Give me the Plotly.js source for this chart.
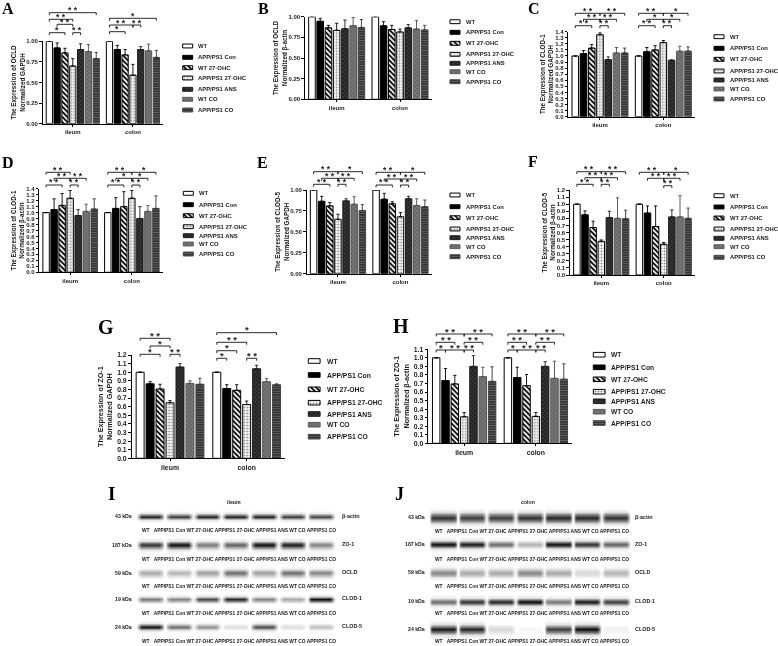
<!DOCTYPE html>
<html><head><meta charset="utf-8">
<script src="https://cdn.plot.ly/plotly-3.0.1.min.js"></script>
<style>html,body{margin:0;padding:0;background:#fff}#c{width:778px;height:646px;filter:blur(.35px)}</style>
</head><body><div id="c"></div>
<script>
const W = 778, H = 646;
const FONT = '"Liberation Sans", Arial, sans-serif';
const SERIF = '"Liberation Serif", "Times New Roman", serif';

const seriesNames = ['WT','APP/PS1 Con','WT 27-OHC','APP/PS1 27-OHC','APP/PS1 ANS','WT CO','APP/PS1 CO'];
const tissues = ['ileum','colon'];

const panelLetters = ['A','B','C','D','E','F','G','H'];
const proteins = ['OCLD','OCLD','CLOD-1','CLOD-1','CLOD-5','CLOD-5','ZO-1','ZO-1'];
const normalizers = ['GAPDH','β-actin','GAPDH','β-actin','GAPDH','β-actin','GAPDH','β-actin'];

const valuesA = [[1,.92,.86,.70,.90,.875,.79],[1,.90,.835,.59,.90,.885,.805]];
const errorsA = [[0,.06,.055,.09,.07,.085,.075],[0,.05,.065,.13,.035,.08,.085]];
const valuesB = [[1,.945,.865,.835,.855,.89,.87],[1,.89,.845,.815,.865,.85,.84]];
const errorsB = [[0,.035,.03,.085,.105,.10,.095],[0,.05,.05,.035,.04,.105,.055]];
const valuesC = [[1,1.04,1.13,1.35,.94,1.05,1.05],[1,1.07,1.10,1.22,.93,1.08,1.08]];
const errorsC = [[0,.05,.06,.03,.045,.09,.08],[0,.07,.07,.035,.005,.08,.07]];
const valuesD = [[1,1.05,1.12,1.24,.95,1.02,1.06],[1,1.07,1.10,1.24,.90,1.02,1.07]];
const errorsD = [[0,.18,.20,.13,.10,.12,.17],[0,.18,.25,.13,.20,.10,.21]];
const valuesE = [[1,.865,.81,.65,.87,.83,.755],[1,.89,.835,.68,.895,.815,.80]];
const errorsE = [[0,.06,.04,.06,.025,.09,.07],[0,.07,.025,.05,.03,.08,.08]];
const valuesF = [[1,.85,.67,.475,.81,.80,.795],[1,.875,.685,.435,.82,.82,.80]];
const errorsF = [[0,.055,.09,.02,.09,.29,.12],[0,.10,.29,.025,.10,.30,.145]];
const valuesG = [[1,.865,.805,.645,1.06,.87,.86],[1,.81,.79,.625,1.04,.89,.855]];
const errorsG = [[0,.025,.055,.025,.04,.03,.07],[0,.045,.065,.04,.04,.035,.01]];
const valuesH = [[1,.735,.695,.31,.90,.78,.725],[1,.77,.675,.315,.90,.76,.75]];
const errorsH = [[0,.14,.10,.05,.125,.11,.17],[0,.12,.13,.045,.055,.20,.18]];
const allValues = [valuesA,valuesB,valuesC,valuesD,valuesE,valuesF,valuesG,valuesH];
const allErrors = [errorsA,errorsB,errorsC,errorsD,errorsE,errorsF,errorsG,errorsH];

// significance brackets: [first bar, last bar, level, stars]; bars 0-6 ileum, 7-13 colon
const bracketsA = [[0,6,12.7,'* *'],[0,3,19.3,'* *'],[1,3,24.3,'* *'],[0,2,32.7,'*'],[3,4,32.7,'* *'],[7,13,18.3,'*'],[7,10,25,'* *'],[10,11,25,'* *'],[7,9,31.7,'*']];
const bracketsB = [];
const bracketsC = [[0,3,13.3,'* *'],[3,6,13.3,'* *'],[1,3,19.3,'* *'],[3,5,19.3,'* *'],[0,2,25.7,'* *'],[3,4,25.7,'* *'],[7,10,13.3,'* *'],[10,13,13.3,'*'],[8,10,19.3,'*'],[10,12,19.3,'*'],[7,9,25.7,'* *'],[10,11,25.7,'* *']];
const bracketsD = [[0,3,172.3,'* *'],[1,3,178.3,'* *'],[3,5,178.3,'* *'],[0,2,185,'* *'],[3,4,185,'* *'],[7,10,172.3,'* *'],[10,13,172.3,'*'],[8,10,178.3,'*'],[10,12,178.3,'*'],[7,9,185,'* *'],[10,11,185,'* *']];
const bracketsE = [[0,3,171.7,'* *'],[3,6,171.7,'*'],[1,3,178.3,'* *'],[3,5,178.3,'* *'],[0,2,184.3,'* *'],[3,4,184.3,'* *'],[7,10,172.3,'* *'],[10,13,172.3,'*'],[8,10,179,'* *'],[10,12,179,'* *'],[7,9,185,'* *'],[10,11,185,'* *']];
const bracketsF = [[0,3,171.7,'* *'],[3,6,171.7,'* *'],[1,3,177.7,'* *'],[3,5,177.7,'* *'],[0,2,184.3,'* *'],[3,4,184.3,'* *'],[7,10,172.3,'* *'],[10,13,172.3,'*'],[8,10,178.3,'* *'],[10,12,178.3,'* *'],[10,11,185.7,'* *']];
const bracketsG = [[0,3,338.3,'* *'],[1,3,346,'*'],[0,2,354.3,'*'],[3,4,354.3,'* *'],[7,13,332.7,'*'],[7,10,342.3,'* *'],[7,9,350.7,'*'],[7,8,358.3,'*'],[10,11,358.3,'* *']];
const bracketsH = [[0,3,334,'* *'],[3,6,334,'* *'],[0,2,342.3,'* *'],[3,5,342.3,'* *'],[0,1,350,'*'],[1,3,350,'* *'],[3,4,350,'* *'],[7,10,334,'* *'],[10,13,334,'* *'],[7,9,342.3,'* *'],[10,12,342.3,'* *'],[7,8,350,'*'],[8,10,350,'* *'],[10,11,350,'* *']];
const allBrackets = [bracketsA,bracketsB,bracketsC,bracketsD,bracketsE,bracketsF,bracketsG,bracketsH];

// layout of the eight plot areas: left, right, y of top tick, y of zero line, top value, tick step, tick format
const frames = [
 [42.7,163,41.3,123.7,1,.25,'.2f'],
 [305,431.7,16.7,99.3,1,.25,'.2f'],
 [568.3,695,31.7,116.7,1.4,.1,'.1f'],
 [39.3,162.7,188.7,272.3,1.4,.1,'.1f'],
 [306.7,431.7,190,273.7,1,.25,'.2f'],
 [570,695,190,275,1.2,.1,'.1f'],
 [131.7,285,355,458.3,1.2,.1,'.1f'],
 [428.3,571.7,349.3,443.3,1.1,.1,'.1f']
];
const letterPos = [[1,8,16],[257,8,16],[527,8,16],[1,162,16],[256,162,16],[527,161,16],[97,327,20],[392,326,20]];
const legendBoxes = [
 [182.7,197.3,[46,57.3,67.7,78,89.3,99.3,110],5.9],
 [450,465,[21.7,32.3,43.3,54.3,63.3,71.7,81.7],5.9],
 [714,729.3,[36.7,48.3,59.3,71,80,89,99],5.9],
 [183.3,198.3,[193.3,204.7,215.7,226.7,235.7,244,254],5.9],
 [450,465,[195,206.7,217.7,229,237.7,246.7,256.7],5.9],
 [714,729.3,[195.7,207,218,229,238.3,246.7,257.3],5.9],
 [308.3,326,[361,375,389.3,402.7,414,424.7,436.7],6.8],
 [593.3,610,[354.7,367.3,379.3,391.7,401.3,411.7,423],6.7]
];

const styles = [
 {bg:'#ffffff',fg:'#000000',shape:'',line:'#000000',err:'#000000',size:4,sol:.3},
 {bg:'#000000',fg:'#000000',shape:'',line:'#000000',err:'#000000',size:4,sol:.3},
 {bg:'#ffffff',fg:'#000000',shape:'\\',line:'#000000',err:'#000000',size:3.6,sol:.5},
 {bg:'#ffffff',fg:'#8a8a8a',shape:'.',line:'#000000',err:'#000000',size:3,sol:.35},
 {bg:'#222222',fg:'#5c5c5c',shape:'x',line:'#1a1a1a',err:'#1a1a1a',size:3,sol:.25},
 {bg:'#666666',fg:'#9a9a9a',shape:'x',line:'#5a5a5a',err:'#4a4a4a',size:3,sol:.25},
 {bg:'#2c2c2c',fg:'#6a6a6a',shape:'-',line:'#444444',err:'#333333',size:2.5,sol:.4}
];

// Western blots
const blotTitles = ['ileum','colon'];
const blotRowNames = ['β-actin','ZO-1','OCLD','CLOD-1','CLOD-5'];
const blotKda = ['43 kDa','187 kDa','59 kDa','19 kDa','24 kDa'];
const bandsIleum = [[.9,.8,.9,.9,.9,.8,.75],[.85,1,.55,.65,1,.95,.5],[.35,.3,.4,.6,.4,.6,.5],[.55,.5,.75,.9,.5,.35,1],[1,.6,.45,.12,.75,.12,.25]];
const bandsColon = [[.85,.8,.8,.85,.9,.9,.85],[1,.95,.6,.3,1,.85,.65],[.5,.35,.35,.5,.35,.15,.3],[.6,.85,.9,1,.55,.95,.8],[.95,.9,.15,.03,.8,1,.05]];
const blotSetup = [
 {bands:bandsIleum,lane0:150.4,pitch:28.4,rows:[516.7,545,573,599,627],labels:[530.7,559.3,586.7,613.3,641.7],kdaX:132.5,nameX:340.7,laneX:238.7,titleX:234,thick:[2.2,2.7,2.7,2,2.2],edges:[-.49,-.40,-.32,.32,.40,.49]},
 {bands:bandsColon,lane0:443.3,pitch:28.75,rows:[517.7,544.3,572.7,601.7,629.3],labels:[531,559.3,586.7,613.3,641.7],kdaX:426,nameX:634.3,laneX:532.3,titleX:527.7,thick:[3.6,2.6,3,2.6,3.4],edges:[-.495,-.44,-.37,.37,.44,.495]}
];
const blotLetters = [['I',107,493,19],['J',394,494,18]];
const laneCaption = 'WT\u00a0\u00a0\u00a0APP/PS1 Con WT 27-OHC APP/PS1 27-OHC APP/PS1 ANS WT CO APP/PS1 CO';

const data = [], shapes = [], annotations = [];
const layout = {
  width:W,height:H,margin:{l:0,r:0,t:0,b:0},paper_bgcolor:'#fff',plot_bgcolor:'rgba(0,0,0,0)',
  barmode:'group',bargap:.09,bargroupgap:.2,showlegend:false,font:{family:FONT,color:'#000'},
  shapes,annotations
};
const px = x => x/W, py = y => 1-y/H;
const note = (text,x,y,size,o={}) => annotations.push(Object.assign({
  text,x:px(x),y:py(y),xref:'paper',yref:'paper',showarrow:false,xanchor:'left',yanchor:'middle',borderpad:0,
  font:{family:FONT,size,weight:700,color:'#1a1a1a'}},o));
const LW = 1.1, BARSTEP = (1-.09)/7;

frames.forEach((f,p) => {
  const id = p+1, xid = 'x'+(id>1?id:''), yid = 'y'+(id>1?id:'');
  const [l,r,top,bot,ymax,step,fmt] = f;
  const fs = p>=6 ? 6.9 : 6;
  layout['xaxis'+(id>1?id:'')] = {
    domain:[px(l),px(r)],anchor:yid,type:'category',range:[-.5,1.5],showgrid:false,zeroline:false,
    showline:true,linecolor:'#000',linewidth:LW,ticks:'outside',ticklen:2,tickwidth:1,tickcolor:'#000',
    tickfont:{family:FONT,size:fs,weight:700,color:'#1a1a1a'},categoryorder:'array',categoryarray:tissues,fixedrange:true
  };
  layout['yaxis'+(id>1?id:'')] = {
    domain:[py(bot),py(top)],anchor:xid,range:[0,ymax],tick0:0,dtick:step,tickformat:fmt,showgrid:false,zeroline:false,
    showline:true,linecolor:'#000',linewidth:LW,ticks:'outside',ticklen:2.5,tickwidth:1,tickcolor:'#000',
    tickfont:{family:FONT,size:fs,weight:700,color:'#1a1a1a'},fixedrange:true,
    title:{text:'The Expression of '+proteins[p]+'<br>Normalized '+normalizers[p],standoff:p>=6?3:0,font:{family:FONT,size:p>=6?7.2:6.3,weight:700,color:'#1a1a1a'}}
  };
  seriesNames.forEach((name,s) => {
    const st = styles[s];
    data.push({
      type:'bar',name,x:tissues,y:allValues[p].map(g=>g[s]),xaxis:xid,yaxis:yid,cliponaxis:false,
      marker:{color:st.bg,line:{color:st.line,width:1},pattern:{shape:st.shape,bgcolor:st.bg,fgcolor:st.fg,size:st.size,solidity:st.sol,fillmode:'replace'}},
      error_y:{type:'data',symmetric:false,array:allErrors[p].map(g=>g[s]),arrayminus:[0,0],color:st.err,thickness:.9,width:1.6},
      hoverinfo:'skip'
    });
  });
  allBrackets[p].forEach(([a,b,lvl,stars]) => {
    const cx = i => { const g=i>6?1:0; return g+((i%7)-3)*BARSTEP; };
    const x0=cx(a), x1=cx(b);
    shapes.push({type:'path',xref:xid,yref:'paper',layer:'above',
      path:`M ${x0},${py(lvl+2.4)} L ${x0},${py(lvl)} L ${x1},${py(lvl)} L ${x1},${py(lvl+2.4)}`,
      line:{color:'#111',width:.9}});
    annotations.push({text:stars,x:(x0+x1)/2,y:py(lvl),xref:xid,yref:'paper',showarrow:false,xanchor:'center',yanchor:'bottom',
      yshift:-3.5,borderpad:0,font:{family:FONT,size:p>=6?9.5:8.5,weight:700,color:'#222'}});
  });
  const [lx,ly,ls] = letterPos[p];
  note(panelLetters[p],lx,ly,ls,{font:{family:SERIF,size:ls,weight:700,color:'#000'}});
  const [sx,tx,ys,lf] = legendBoxes[p];
  seriesNames.forEach((name,s)=>note(name,tx,ys[s],lf));
});

// overlay axes in page units for legend swatches and blots
layout.xaxis9 = {domain:[0,1],range:[0,W],visible:false,fixedrange:true,anchor:'y9'};
layout.yaxis9 = {domain:[0,1],range:[H,0],visible:false,fixedrange:true,anchor:'x9'};

styles.forEach((st,s)=>{
  const base = legendBoxes.map(b=>b[0]);
  data.push({type:'bar',orientation:'h',offsetgroup:'legend',xaxis:'x9',yaxis:'y9',hoverinfo:'skip',
    y:legendBoxes.map(b=>b[2][s]),base,x:legendBoxes.map((b,p)=>p>=6?11.8:10),width:legendBoxes.map((b,p)=>p>=6?4.6:3.9),
    marker:{color:st.bg,line:{color:st.line,width:1},pattern:{shape:st.shape,bgcolor:st.bg,fgcolor:st.fg,size:st.size,solidity:st.sol,fillmode:'replace'}}});
});

const rowProfile = [.02,.1,.62,1,.62,.1,.02], rowStep = [-2.6,-1.7,-.8,0,.8,1.7,2.6];
blotSetup.forEach((b,k)=>{
  b.rows.forEach((cy,r)=>{
    const xs=[], ys=rowStep.map(o=>cy+o*b.thick[r]);
    b.bands[r].forEach((_,i)=>{const c=b.lane0+i*b.pitch; b.edges.forEach(o=>xs.push(c+o*b.pitch));});
    const edge=[0,.55,1,1,.55,0];
    const z=rowProfile.map(w=>{const row=[];b.bands[r].forEach(v=>edge.forEach(e=>row.push(v*w*e)));return row;});
    data.push({type:'heatmap',x:xs,y:ys,z,zmin:0,zmax:1,zsmooth:'best',showscale:false,xaxis:'x9',yaxis:'y9',hoverinfo:'skip',
      colorscale:[[0,'rgba(255,255,255,0)'],[.03,'#f4f4f4'],[1,'#0c0c0c']]});
    note(blotKda[r],b.kdaX,cy-.5,5.2,{xanchor:'right'});
    note(blotRowNames[r],b.nameX,cy-.7,5.4);
    note(laneCaption,b.laneX,b.labels[r],4.9,{xanchor:'center'});
  });
  note(blotTitles[k],b.titleX,502,5.2,{xanchor:'center'});
  const [t,lx,ly,ls]=blotLetters[k];
  note(t,lx,ly,ls,{font:{family:SERIF,size:ls,weight:700,color:'#000'}});
});

Plotly.newPlot('c',data,layout,{staticPlot:true,displayModeBar:false});
</script></body></html>
